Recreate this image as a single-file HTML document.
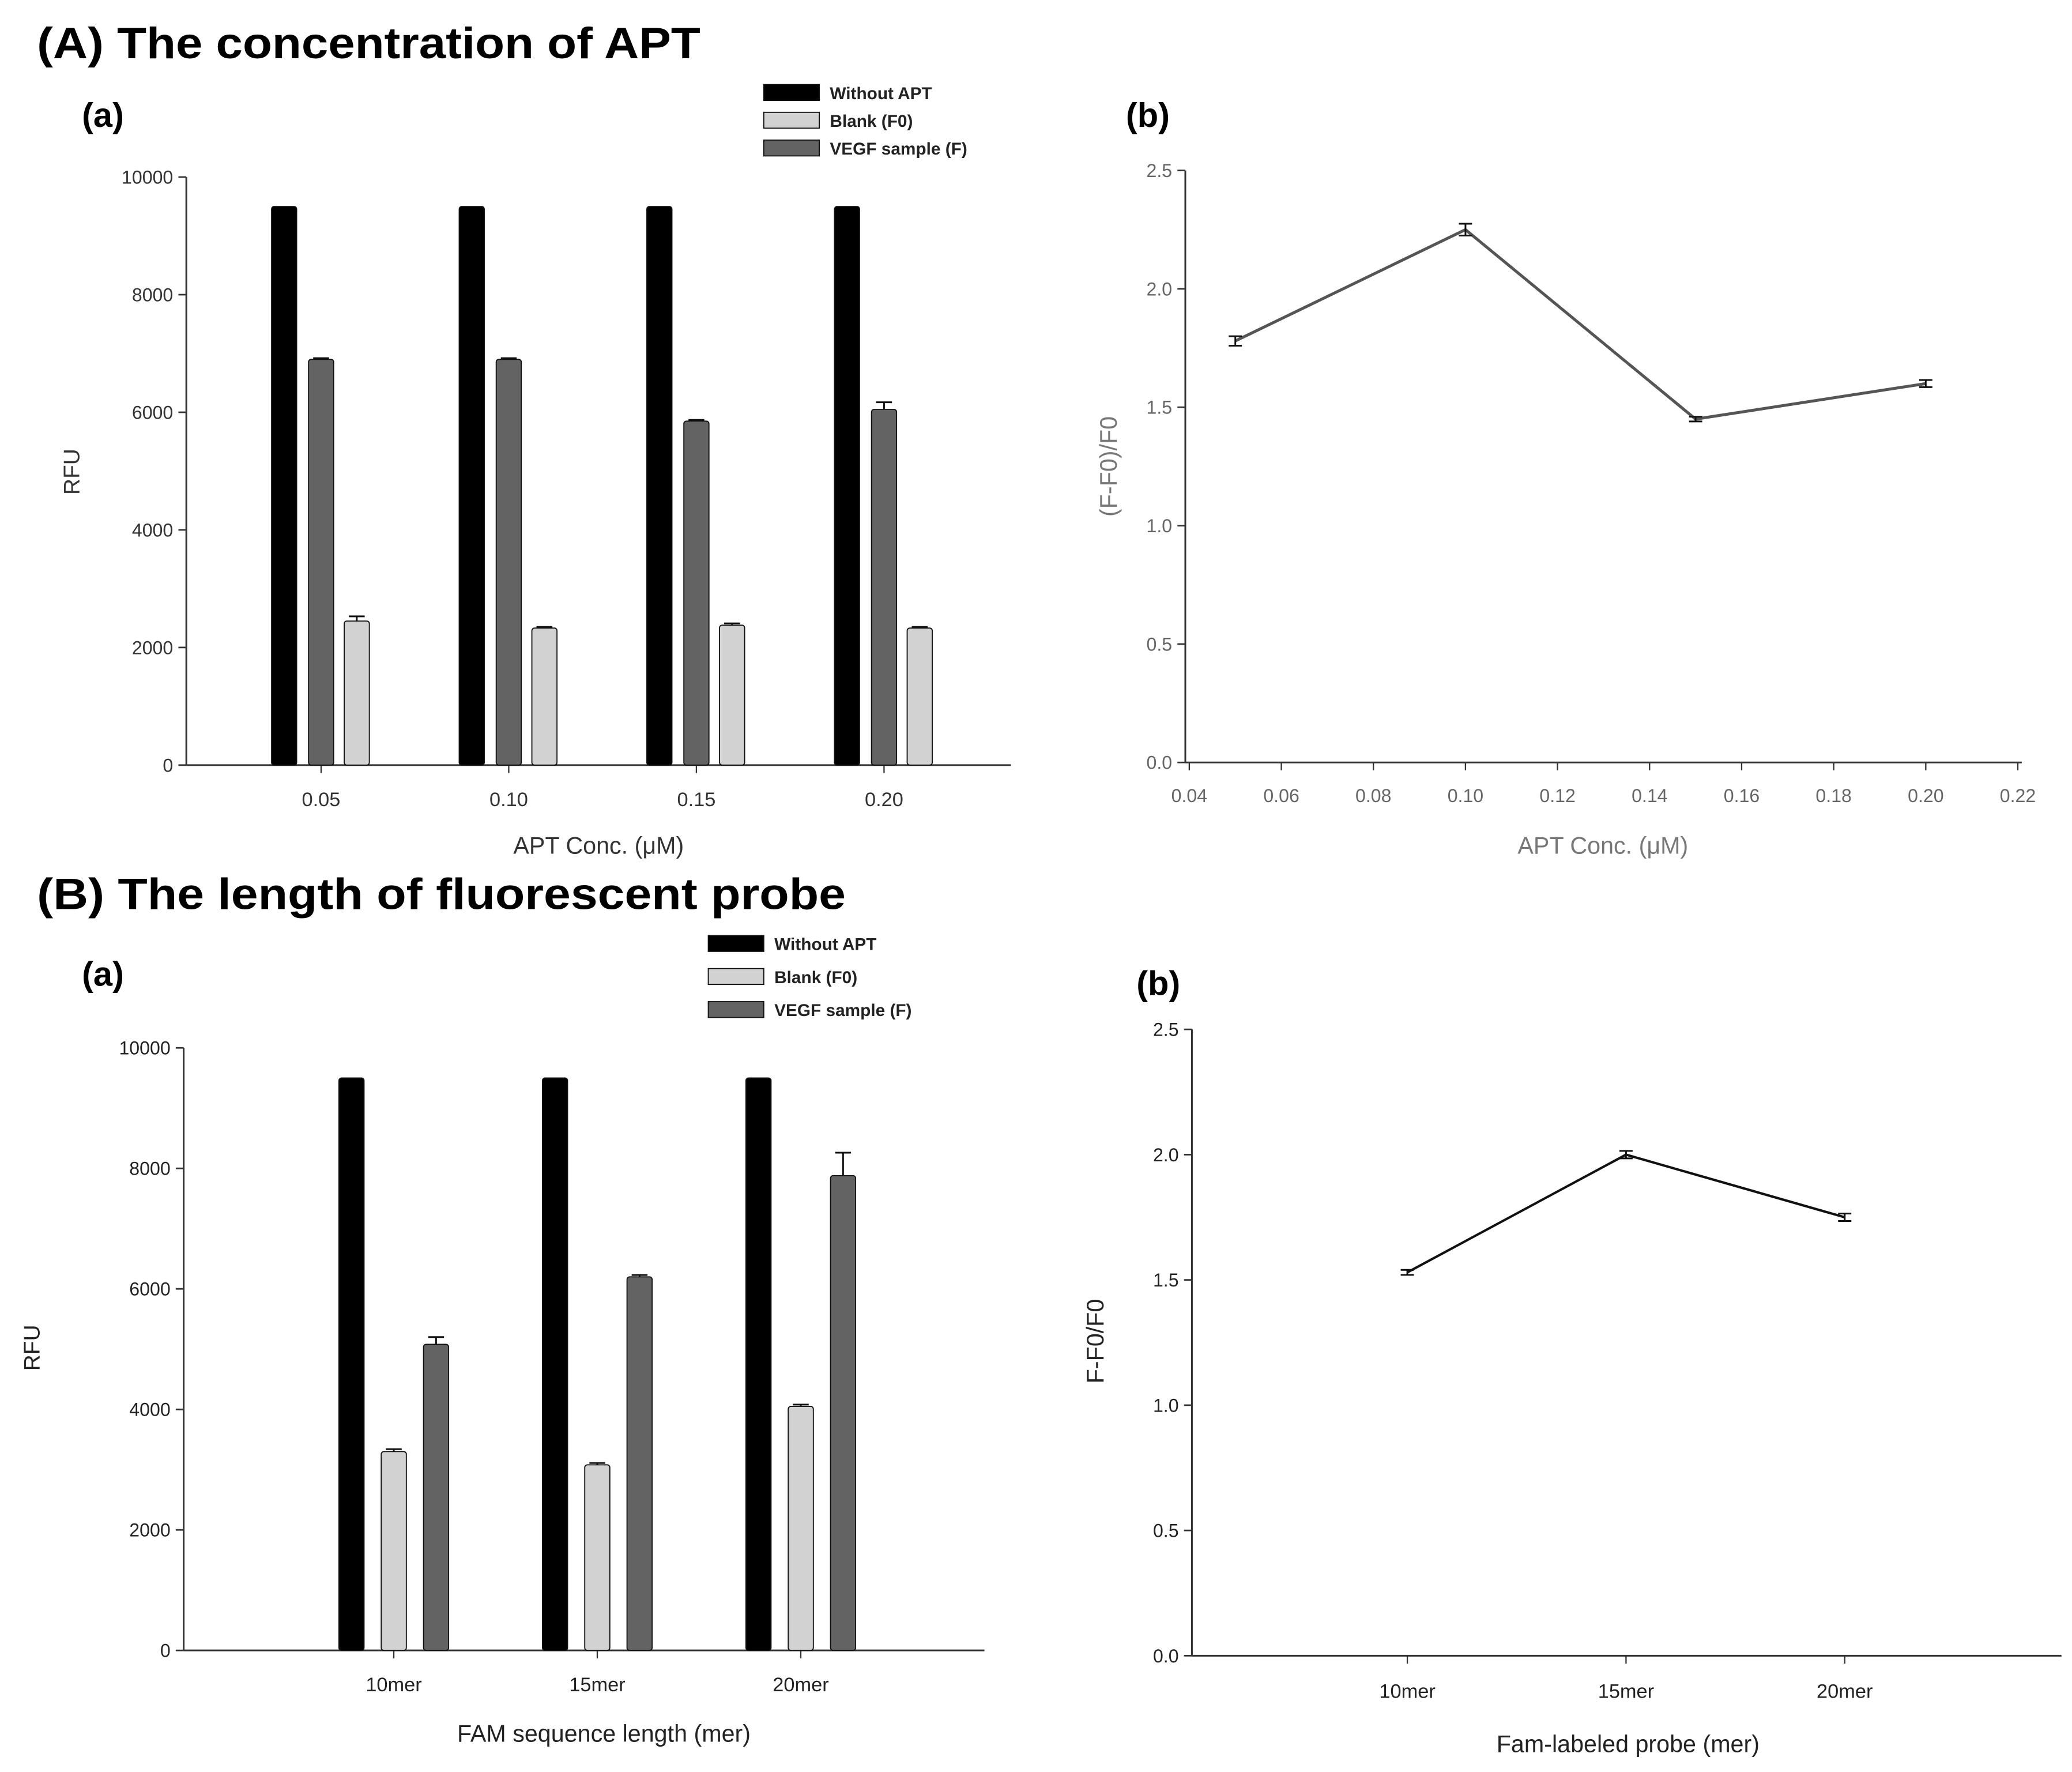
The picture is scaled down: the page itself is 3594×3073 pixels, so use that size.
<!DOCTYPE html>
<html><head><meta charset="utf-8"><style>
html,body{margin:0;padding:0;background:#fff}
svg{display:block}
text{font-family:"Liberation Sans",sans-serif}
.t{font-weight:bold}
</style></head><body>
<svg id="svg" width="3594" height="3073" viewBox="0 0 1568 1341" preserveAspectRatio="none" xmlns="http://www.w3.org/2000/svg">
<rect width="1568" height="1341" fill="#fff"/>
<text x="28" y="44" font-size="33" class="t" textLength="502" lengthAdjust="spacingAndGlyphs">(A) The concentration of APT</text>
<text x="28" y="688" font-size="33" class="t" textLength="612" lengthAdjust="spacingAndGlyphs">(B) The length of fluorescent probe</text>
<text x="62" y="96" font-size="26" class="t">(a)</text>
<text x="852" y="96" font-size="26" class="t">(b)</text>
<text x="62" y="746" font-size="26" class="t">(a)</text>
<text x="860" y="753" font-size="26" class="t">(b)</text>
<g id="g"></g>
</svg>
<script>
const aCats=['0.05','0.10','0.15','0.20'];
const aWithout=[9500,9500,9500,9500];
const aBlank=[2450,2330,2380,2330];
const aBlankErr=[80,20,30,20];
const aVegf=[6900,6900,5850,6050];
const aVegfErr=[20,20,20,120];
const abX=[0.05,0.10,0.15,0.20];
const abY=[1.78,2.25,1.45,1.60];
const abErr=[0.02,0.025,0.01,0.015];
const bCats=['10mer','15mer','20mer'];
const bWithout=[9500,9500,9500];
const bBlank=[3300,3080,4050];
const bBlankErr=[40,30,30];
const bVegf=[5080,6200,7880];
const bVegfErr=[120,30,380];
const bbY=[1.53,2.00,1.75];
const bbErr=[0.01,0.015,0.015];
const rfuTicks=[0,2000,4000,6000,8000,10000];
const ratioTicks=[0,0.5,1.0,1.5,2.0,2.5];
const abXTicks=[0.04,0.06,0.08,0.10,0.12,0.14,0.16,0.18,0.20,0.22];

const NS='http://www.w3.org/2000/svg';
const G=document.getElementById('g');
function mk(tag,at,parent){const e=document.createElementNS(NS,tag);for(const k in at)e.setAttribute(k,at[k]);(parent||G).appendChild(e);return e;}
function txt(s,at,parent){const e=mk('text',at,parent);e.textContent=s;return e;}

function yAxis(x,y0,y1,max,ticks,fmt,col,name){
  const sy=v=>y0-(v/max)*(y0-y1);
  const l=mk('line',{x1:x,y1:y0,x2:x,y2:y1,stroke:'#333','stroke-width':1.3});
  
  
  ticks.forEach(t=>{
    mk('line',{x1:x-6,x2:x,y1:sy(t),y2:sy(t),stroke:'#333','stroke-width':1.2});
    const e=txt(fmt(t),{x:x-10,y:sy(t)+5,'font-size':14,'text-anchor':'end',fill:col});
    
    
  });
  return sy;
}
function bar(x,w,y,y0,fill,name){
  const r=mk('rect',{x:x-w/2,y:y,width:w,height:y0-y,fill:fill,stroke:'#111','stroke-width':0.8,rx:2});
  
  
}
function err(x,yv,ye,w){
  mk('line',{x1:x,x2:x,y1:yv,y2:ye,stroke:'#111','stroke-width':1.3});
  mk('line',{x1:x-w,x2:x+w,y1:ye,y2:ye,stroke:'#111','stroke-width':1.3});
}
function legend(x,y,gap,name){
  const items=[['Without APT','#000'],['Blank (F0)','#d2d2d2'],['VEGF sample (F)','#636363']];
  items.forEach((it,i)=>{
    const r=mk('rect',{x:x,y:y+i*gap,width:42,height:12,fill:it[1],stroke:'#111','stroke-width':0.8});
    
    
    const t=txt(it[0],{x:x+50,y:y+i*gap+11,'font-size':13,'font-weight':'bold',fill:'#222'});
    
    
  });
}
function rotLabel(s,x,y,size,col,name){
  const e=txt(s,{x:x,y:y,'font-size':size,'text-anchor':'middle',fill:col,transform:`rotate(-90 ${x} ${y})`});
  
  
}
function label(s,x,y,size,col,name){
  const e=txt(s,{x:x,y:y,'font-size':size,'text-anchor':'middle',fill:col});
  
  
}

// Panel A(a)
(function(){
  const y0=579,y1=134;
  const sy=yAxis(141,y0,y1,10000,rfuTicks,v=>String(v),'#333','aa');
  mk('line',{x1:141,x2:765,y1:y0,y2:y0,stroke:'#333','stroke-width':1.3});
  const cx=i=>243+i*142;
  aCats.forEach((c,i)=>{
    const x=cx(i);
    mk('line',{x1:x,x2:x,y1:y0,y2:y0+6,stroke:'#333'});
    label(c,x,y0+31,15,'#333','aa-x-tick');
    bar(x-28,19,sy(aWithout[i]),y0,'#000','aa-bar-without');
    bar(x,19,sy(aVegf[i]),y0,'#636363','aa-bar-vegf');
    err(x,sy(aVegf[i]),sy(aVegf[i]+aVegfErr[i]),6);
    bar(x+27,19,sy(aBlank[i]),y0,'#d2d2d2','aa-bar-blank');
    err(x+27,sy(aBlank[i]),sy(aBlank[i]+aBlankErr[i]),6);
  });
  rotLabel('RFU',60,357,17,'#333','aa-y-title');
  label('APT Conc. (μM)',453,646,18,'#333','aa-x-title');
  legend(578,64,21,'aa');
})();

// Panel A(b)
(function(){
  const y0=577,y1=129;
  const sy=yAxis(897,y0,y1,2.5,ratioTicks,v=>v.toFixed(1),'#666','ab');
  mk('line',{x1:897,x2:1530,y1:y0,y2:y0,stroke:'#333','stroke-width':1.3});
  const sx=v=>900+(v-0.04)/0.18*627;
  abXTicks.forEach(t=>{
    mk('line',{x1:sx(t),x2:sx(t),y1:y0,y2:y0+6,stroke:'#333'});
    label(t.toFixed(2),sx(t),y0+30,14,'#666','ab-x-tick');
  });
  const p=mk('polyline',{points:abX.map((x,i)=>sx(x)+','+sy(abY[i])).join(' '),fill:'none',stroke:'#555','stroke-width':2.2});
  
  
  abX.forEach((x,i)=>{
    err(sx(x),sy(abY[i]-abErr[i]),sy(abY[i]+abErr[i]),5);
    mk('line',{x1:sx(x)-5,x2:sx(x)+5,y1:sy(abY[i]-abErr[i]),y2:sy(abY[i]-abErr[i]),stroke:'#111','stroke-width':1.3});
  });
  rotLabel('(F-F0)/F0',845,353,18,'#777','ab-y-title');
  label('APT Conc. (μM)',1213,646,18,'#777','ab-x-title');
})();

// Panel B(a)
(function(){
  const y0=1249,y1=793;
  const sy=yAxis(139,y0,y1,10000,rfuTicks,v=>String(v),'#222','ba');
  mk('line',{x1:139,x2:745,y1:y0,y2:y0,stroke:'#333','stroke-width':1.3});
  const cx=i=>298+i*154;
  bCats.forEach((c,i)=>{
    const x=cx(i);
    mk('line',{x1:x,x2:x,y1:y0,y2:y0+6,stroke:'#333'});
    label(c,x,y0+31,15,'#222','ba-x-tick');
    bar(x-32,19,sy(bWithout[i]),y0,'#000','ba-bar-without');
    bar(x,19,sy(bBlank[i]),y0,'#d2d2d2','ba-bar-blank');
    err(x,sy(bBlank[i]),sy(bBlank[i]+bBlankErr[i]),6);
    bar(x+32,19,sy(bVegf[i]),y0,'#636363','ba-bar-vegf');
    err(x+32,sy(bVegf[i]),sy(bVegf[i]+bVegfErr[i]),6);
  });
  rotLabel('RFU',30,1020,17,'#222','ba-y-title');
  label('FAM sequence length (mer)',457,1318,18,'#222','ba-x-title');
  legend(536,708,25,'ba');
})();

// Panel B(b)
(function(){
  const y0=1253,y1=779;
  const sy=yAxis(902,y0,y1,2.5,ratioTicks,v=>v.toFixed(1),'#222','bb');
  mk('line',{x1:902,x2:1560,y1:y0,y2:y0,stroke:'#333','stroke-width':1.3});
  const cx=i=>1065+i*165.5;
  bCats.forEach((c,i)=>{
    mk('line',{x1:cx(i),x2:cx(i),y1:y0,y2:y0+6,stroke:'#333'});
    label(c,cx(i),y0+32,15,'#222','bb-x-tick');
  });
  const p=mk('polyline',{points:bbY.map((v,i)=>cx(i)+','+sy(v)).join(' '),fill:'none',stroke:'#111','stroke-width':1.8});
  
  
  bbY.forEach((v,i)=>{
    err(cx(i),sy(v-bbErr[i]),sy(v+bbErr[i]),5);
    mk('line',{x1:cx(i)-5,x2:cx(i)+5,y1:sy(v-bbErr[i]),y2:sy(v-bbErr[i]),stroke:'#111','stroke-width':1.3});
  });
  rotLabel('F-F0/F0',835,1015,18,'#222','bb-y-title');
  label('Fam-labeled probe (mer)',1232,1326,18,'#222','bb-x-title');
})();
</script>
</body></html>
